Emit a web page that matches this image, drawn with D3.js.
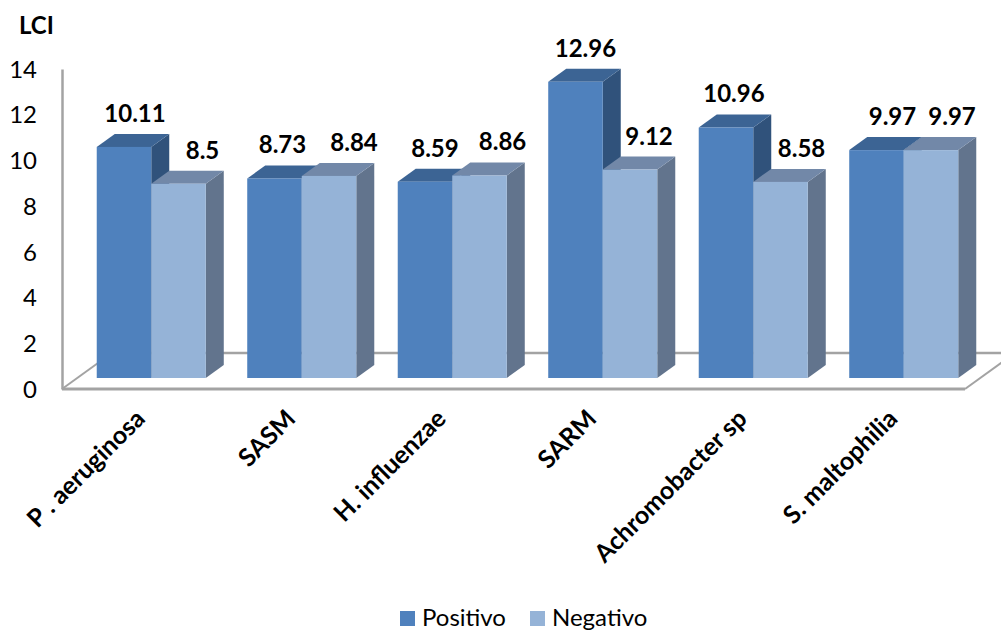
<!DOCTYPE html>
<html>
<head>
<meta charset="utf-8">
<script src="https://cdnjs.cloudflare.com/ajax/libs/d3/7.8.5/d3.min.js"></script>
<style>
  html, body { margin: 0; padding: 0; background: #fff; }
  svg { display: block; }
  text { font-family: Lato, "Open Sans", sans-serif; fill: #000; }
</style>
</head>
<body>
<svg id="chart" width="1001" height="635"></svg>
<script>
const categories = ["P . aeruginosa", "SASM", "H. influenzae", "SARM", "Achromobacter sp", "S. maltophilia"];
const positivo = [10.11, 8.73, 8.59, 12.96, 10.96, 9.97];
const negativo = [8.5, 8.84, 8.86, 9.12, 8.58, 9.97];
const seriesNames = ["Positivo", "Negativo"];
const yTicks = [0, 2, 4, 6, 8, 10, 12, 14];

// Oblique projection of the 3D box: depth offset and the lift of the bars above the floor edge.
const depthX = 18, depthY = 13, floorLift = 11;
const palette = [
  { front: "#4F81BD", top: "#3C6494", side: "#30527B" },
  { front: "#95B3D7", top: "#7288A8", side: "#62748D" }
];
// Horizontal placement of each value label relative to its bar centre.
const labelShift = [
  [11, 24], [8, 25], [10, 23], [10, 19], [8, 21], [16, 21]
];

const svg = d3.select("#chart");
const y = d3.scaleLinear().domain([0, 14]).range([389, 69]);
const x0 = d3.scaleBand().domain(categories).range([76, 979]).paddingInner(0.2755).paddingOuter(0.1378);
const x1 = d3.scaleBand().domain(seriesNames).range([0, x0.bandwidth()]);

const wall = "#A3A3A3";
const floorBackY = 353;
const left = 62, right = 965;
const backOffset = (y(0) - floorBackY) * depthX / depthY;

// Floor outline: back edge, left diagonal, front edge, right diagonal.
const floor = svg.append("g").attr("fill", "none").attr("stroke", wall);
floor.append("path").attr("stroke-width", 2.5)
  .attr("d", d3.line()([[left + backOffset, floorBackY], [1001, floorBackY]]));
floor.append("path").attr("stroke-width", 2)
  .attr("d", d3.line()([[left, y(0)], [left + backOffset, floorBackY]]));
floor.append("path").attr("stroke-width", 2)
  .attr("d", d3.line()([[right, y(0)], [right + backOffset, floorBackY]]));
floor.append("path").attr("stroke-width", 3)
  .attr("d", d3.line()([[left, y(0)], [right, y(0)]]));

// Value axis with bare numeric labels.
const yAxis = d3.axisLeft(y).tickValues(yTicks).tickSize(0).tickPadding(25).tickFormat(d3.format("d"));
const axisG = svg.append("g").attr("transform", `translate(${left},0)`).call(yAxis);
axisG.select(".domain").attr("stroke", wall).attr("stroke-width", 2.5);
axisG.selectAll("text").attr("font-size", 24).attr("font-family", "Lato").attr("fill", "#000").attr("dy", "0.34em");

// Each bar is a front face, a top parallelogram and a side parallelogram.
const rows = categories.map((c, i) => [
  { cat: c, i, s: 0, name: seriesNames[0], v: positivo[i] },
  { cat: c, i, s: 1, name: seriesNames[1], v: negativo[i] }
]);
const groups = svg.append("g").selectAll("g").data(rows).join("g")
  .attr("transform", d => `translate(${x0(d[0].cat)},0)`);
const bars = groups.selectAll("g").data(d => d).join("g");
const base = y(0) - floorLift;
const barTop = d => y(d.v) - floorLift;
const w = x1.bandwidth();

bars.append("path").attr("fill", d => palette[d.s].side).attr("d", d => {
  const xr = x1(d.name) + w;
  return d3.line()([[xr, barTop(d)], [xr + depthX, barTop(d) - depthY], [xr + depthX, base - depthY], [xr, base]]) + "Z";
});
bars.append("path").attr("fill", d => palette[d.s].top).attr("d", d => {
  const xl = x1(d.name), xr = xl + w, t = barTop(d);
  return d3.line()([[xl, t], [xl + depthX, t - depthY], [xr + depthX, t - depthY], [xr, t]]) + "Z";
});
bars.append("rect")
  .attr("x", d => x1(d.name)).attr("y", barTop)
  .attr("width", w).attr("height", d => base - barTop(d))
  .attr("fill", d => palette[d.s].front);

// Value labels sit over the back edge of each bar.
svg.append("g").selectAll("text").data(rows.flat()).join("text")
  .attr("x", d => x0(d.cat) + x1(d.name) + w / 2 + labelShift[d.i][d.s])
  .attr("y", d => barTop(d) - 25)
  .attr("text-anchor", "middle")
  .attr("font-size", 24).attr("font-weight", 700)
  .text(d => d3.format(".10~f")(d.v));

// Rotated category labels ending just under their group.
svg.append("g").selectAll("text").data(categories).join("text")
  .attr("transform", d => `translate(${x0(d) + x0.bandwidth() / 2 - 11},414) rotate(-45)`)
  .attr("text-anchor", "end").attr("dy", "0.35em")
  .attr("font-size", 25).attr("font-weight", 700)
  .text(d => d);

svg.append("text").attr("x", 19).attr("y", 34)
  .attr("font-size", 24).attr("font-weight", 700).text("LCI");

// Legend along the bottom edge.
const legend = svg.append("g").selectAll("g").data(seriesNames).join("g")
  .attr("transform", (d, i) => `translate(${400 + i * 130},611)`);
legend.append("rect").attr("width", 15).attr("height", 15).attr("fill", (d, i) => palette[i].front);
legend.append("text").attr("x", 22).attr("y", 15).attr("font-size", 24).text(d => d);
</script>
</body>
</html>
